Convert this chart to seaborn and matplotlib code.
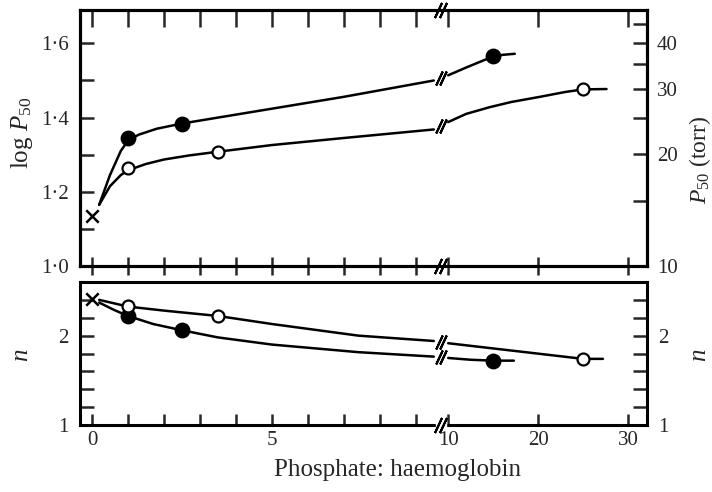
import numpy as np
import pandas as pd
import matplotlib
matplotlib.use("Agg")
import matplotlib.pyplot as plt
import seaborn as sns

sns.set_theme(style="white")
plt.rcParams["font.family"] = ["Liberation Serif", "DejaVu Serif"]
plt.rcParams["mathtext.fontset"] = "custom"
plt.rcParams["mathtext.rm"] = "Liberation Serif"
plt.rcParams["mathtext.it"] = "Liberation Serif:italic"

# ---------------- data ----------------
# top panel: log P50
top_filled_pts_x = [1.0, 2.5, 15.0]
top_filled_pts_y = [1.346, 1.384, 1.565]
top_open_pts_x = [1.0, 3.5, 25.0]
top_open_pts_y = [1.263, 1.308, 1.476]
top_cross_x = [0.0]
top_cross_y = [1.135]

# curves (left segment / right segment of the broken axis)
top_filled_curve_a_x = [0.2, 0.5, 0.8, 1.0, 1.3, 1.8, 2.5, 3.5, 5.0, 7.0, 9.5]
top_filled_curve_a_y = [1.165, 1.245, 1.31, 1.338, 1.354, 1.370, 1.384, 1.400, 1.424, 1.456, 1.500]
top_filled_curve_b_x = [10.0, 12.0, 14.0, 15.0, 16.0, 17.4]
top_filled_curve_b_y = [1.514, 1.535, 1.555, 1.563, 1.569, 1.572]
top_open_curve_a_x = [0.2, 0.5, 0.8, 1.0, 1.5, 2.0, 2.7, 3.5, 5.0, 7.0, 9.5]
top_open_curve_a_y = [1.165, 1.215, 1.245, 1.258, 1.275, 1.287, 1.298, 1.308, 1.326, 1.345, 1.368]
top_open_curve_b_x = [10.0, 12.0, 14.6, 17.0, 20.2, 23.0, 25.0, 27.6]
top_open_curve_b_y = [1.388, 1.410, 1.428, 1.442, 1.456, 1.469, 1.476, 1.477]

# bottom panel: n
bot_filled_pts_x = [1.0, 2.5, 15.0]
bot_filled_pts_y = [2.22, 2.06, 1.72]
bot_open_pts_x = [1.0, 3.5, 25.0]
bot_open_pts_y = [2.33, 2.22, 1.74]
bot_cross_x = [0.0]
bot_cross_y = [2.41]

bot_filled_curve_a_x = [0.2, 0.6, 1.0, 1.7, 2.5, 3.5, 5.0, 7.4, 9.5]
bot_filled_curve_a_y = [2.37, 2.29, 2.22, 2.13, 2.06, 1.98, 1.90, 1.815, 1.765]
bot_filled_curve_b_x = [10.0, 12.5, 15.0, 17.3]
bot_filled_curve_b_y = [1.75, 1.73, 1.72, 1.72]
bot_open_curve_a_x = [0.2, 1.0, 2.0, 3.5, 5.0, 7.4, 9.5]
bot_open_curve_a_y = [2.40, 2.325, 2.28, 2.22, 2.13, 2.00, 1.94]
bot_open_curve_b_x = [10.0, 25.0, 27.2]
bot_open_curve_b_y = [1.915, 1.74, 1.74]

x_major = [0, 5, 10, 20, 30]
x_minor = [1, 2, 3, 4, 6, 7, 8, 9]
x_labels = ["0", "5", "10", "20", "30"]
top_yticks = [1.0, 1.2, 1.4, 1.6]
top_yticklabels = ["1·0", "1·2", "1·4", "1·6"]
p50_ticks = [10, 20, 30, 40]
p50_minor = [15, 25, 35, 45]
n_ticks = [1, 2]
n_minor = [1.2, 1.4, 1.6, 1.8, 2.2, 2.4, 2.6]

# ---------------- broken x scale ----------------
def fwd(x):
    x = np.asarray(x, dtype=float)
    return np.where(x <= 9.6, x,
                    np.where(x <= 10.0, 9.6 + (x - 9.6) * 0.75,
                             9.9 + (x - 10.0) * 0.25))

def inv(u):
    u = np.asarray(u, dtype=float)
    return np.where(u <= 9.6, u,
                    np.where(u <= 9.9, 9.6 + (u - 9.6) / 0.75,
                             10.0 + (u - 9.9) * 4.0))

XMIN, XMAX = -0.333, 32.1
BREAK_X = 9.72

W, H = 712, 492
fig = plt.figure(figsize=(W / 100, H / 100), dpi=100)
ax1 = fig.add_axes([80 / W, 1 - 266 / H, 567 / W, 256 / H])
ax2 = fig.add_axes([80 / W, 1 - 425 / H, 567 / W, 143 / H])

LW = 1.8
TICKFS = 15
LABFS = 18
SPW = 2.2
TW = 1.8

def draw_curve(ax, xs, ys):
    df = pd.DataFrame({"x": xs, "y": ys})
    sns.lineplot(data=df, x="x", y="y", ax=ax, color="black", lw=LW,
                 sort=False, estimator=None)

def draw_points(ax, xs, ys, filled):
    df = pd.DataFrame({"x": xs, "y": ys})
    ms = 9.8 if filled else 8.6
    sns.scatterplot(data=df, x="x", y="y", ax=ax, s=ms ** 2,
                    color="black" if filled else "white",
                    edgecolor="black", linewidth=1.6, zorder=5)

def draw_cross(ax, xs, ys):
    df = pd.DataFrame({"x": xs, "y": ys})
    sns.scatterplot(data=df, x="x", y="y", ax=ax, marker="x", s=80,
                    color="black", linewidth=1.8, zorder=5)

def curve_break(ax, xs_a, ys_a, xs_b, ys_b):
    yb = 0.5 * (ys_a[-1] + ys_b[0])
    for dx in (-0.07, 0.07):
        ax.plot([BREAK_X + dx], [yb], marker=(2, 2, -25), ms=11,
                mew=1.5, color="black", ls="none", zorder=6)

for ax in (ax1, ax2):
    ax.set_xscale("function", functions=(fwd, inv))
    ax.set_xlim(XMIN, XMAX)

# top panel
for (xa, ya, xb, yb) in [
        (top_filled_curve_a_x, top_filled_curve_a_y, top_filled_curve_b_x, top_filled_curve_b_y),
        (top_open_curve_a_x, top_open_curve_a_y, top_open_curve_b_x, top_open_curve_b_y)]:
    draw_curve(ax1, xa, ya)
    draw_curve(ax1, xb, yb)
    curve_break(ax1, xa, ya, xb, yb)
draw_points(ax1, top_filled_pts_x, top_filled_pts_y, True)
draw_points(ax1, top_open_pts_x, top_open_pts_y, False)
draw_cross(ax1, top_cross_x, top_cross_y)
ax1.set_ylim(1.0, 1.69)

# bottom panel
for (xa, ya, xb, yb) in [
        (bot_filled_curve_a_x, bot_filled_curve_a_y, bot_filled_curve_b_x, bot_filled_curve_b_y),
        (bot_open_curve_a_x, bot_open_curve_a_y, bot_open_curve_b_x, bot_open_curve_b_y)]:
    draw_curve(ax2, xa, ya)
    draw_curve(ax2, xb, yb)
    curve_break(ax2, xa, ya, xb, yb)
draw_points(ax2, bot_filled_pts_x, bot_filled_pts_y, True)
draw_points(ax2, bot_open_pts_x, bot_open_pts_y, False)
draw_cross(ax2, bot_cross_x, bot_cross_y)
ax2.set_ylim(1.0, 2.6)

for ax in (ax1, ax2):
    ax.set_xlabel("")
    ax.set_ylabel("")
    ax.grid(False)

# ---- right axis P50 (torr), log (created first so tick settings survive) ----
axr = ax1.twinx()
axr.set_yscale("log")
axr.set_ylim(10 ** 1.0, 10 ** 1.69)
axr.set_yticks(p50_ticks)
axr.set_yticks(p50_minor, minor=True)
axr.set_yticklabels([str(v) for v in p50_ticks], fontsize=TICKFS)
axr.yaxis.set_minor_formatter(matplotlib.ticker.NullFormatter())
axr.tick_params(axis="y", which="both", direction="in", length=10, width=TW,
                right=True, pad=7)
axr.grid(False)

# ---- top ticks of top panel (inward) via twiny ----
axt = ax1.twiny()
axt.set_xscale("function", functions=(fwd, inv))
axt.set_xlim(XMIN, XMAX)
axt.set_xticks(x_major)
axt.set_xticks(x_minor, minor=True)
axt.tick_params(axis="x", which="both", direction="in", length=12, width=TW,
                top=True, bottom=False, labeltop=False, labelbottom=False)
axt.grid(False)

for ax in (ax1, ax2, axr, axt):
    for s in ax.spines.values():
        s.set_linewidth(SPW)
        s.set_color("black")

# x ticks
for ax in (ax1, ax2):
    ax.set_xticks(x_major)
    ax.set_xticks(x_minor, minor=True)
ax1.tick_params(axis="x", which="both", direction="inout", length=13, width=TW,
                top=False, bottom=True, labelbottom=False)
ax2.set_xticklabels(x_labels, fontsize=TICKFS)
ax2.tick_params(axis="x", which="both", direction="in", length=8, width=TW,
                bottom=True, top=False, pad=4)

# y ticks top-left
ax1.set_yticks(top_yticks)
ax1.set_yticklabels(top_yticklabels, fontsize=TICKFS)
ax1.set_yticks([1.1, 1.3, 1.5], minor=True)
ax1.tick_params(axis="y", which="both", direction="in", length=10, width=TW,
                left=True, right=False, pad=8)

# bottom panel y (both sides)
ax2.set_yticks(n_ticks)
ax2.set_yticklabels(["1", "2"], fontsize=TICKFS)
ax2.set_yticks(n_minor, minor=True)
ax2.tick_params(axis="y", which="both", direction="in", length=10, width=TW,
                left=True, right=True, labelleft=True, labelright=True, pad=8)

# axis titles
fig.text(22 / W, 1 - 133 / H, "log $\\mathit{P}_{50}$", fontsize=LABFS,
         rotation=90, ha="center", va="center")
fig.text(700 / W, 1 - 160 / H, "$\\mathit{P}_{50}$ (torr)", fontsize=LABFS - 1,
         rotation=90, ha="center", va="center")
fig.text(22 / W, 1 - 355 / H, "$\\mathit{n}$", fontsize=LABFS,
         rotation=90, ha="center", va="center")
fig.text(700 / W, 1 - 355 / H, "$\\mathit{n}$", fontsize=LABFS,
         rotation=90, ha="center", va="center")
fig.text(398 / W, 1 - 470 / H, "Phosphate: haemoglobin", fontsize=LABFS,
         ha="center", va="center")

# axis break marks on x-axes
for ax, ys in ((ax1, (0.0, 1.0)), (ax2, (0.0,))):
    tr = ax.get_xaxis_transform()
    for yy in ys:
        ax.plot([BREAK_X], [yy], marker="s", ms=7, color="white",
                transform=tr, clip_on=False, zorder=7, ls="none")
        for dx in (-0.08, 0.08):
            ax.plot([BREAK_X + dx], [yy], marker=(2, 2, -25), ms=12, mew=1.5,
                    color="black", transform=tr, clip_on=False, zorder=8,
                    ls="none")

fig.savefig("out.png", dpi=100)
